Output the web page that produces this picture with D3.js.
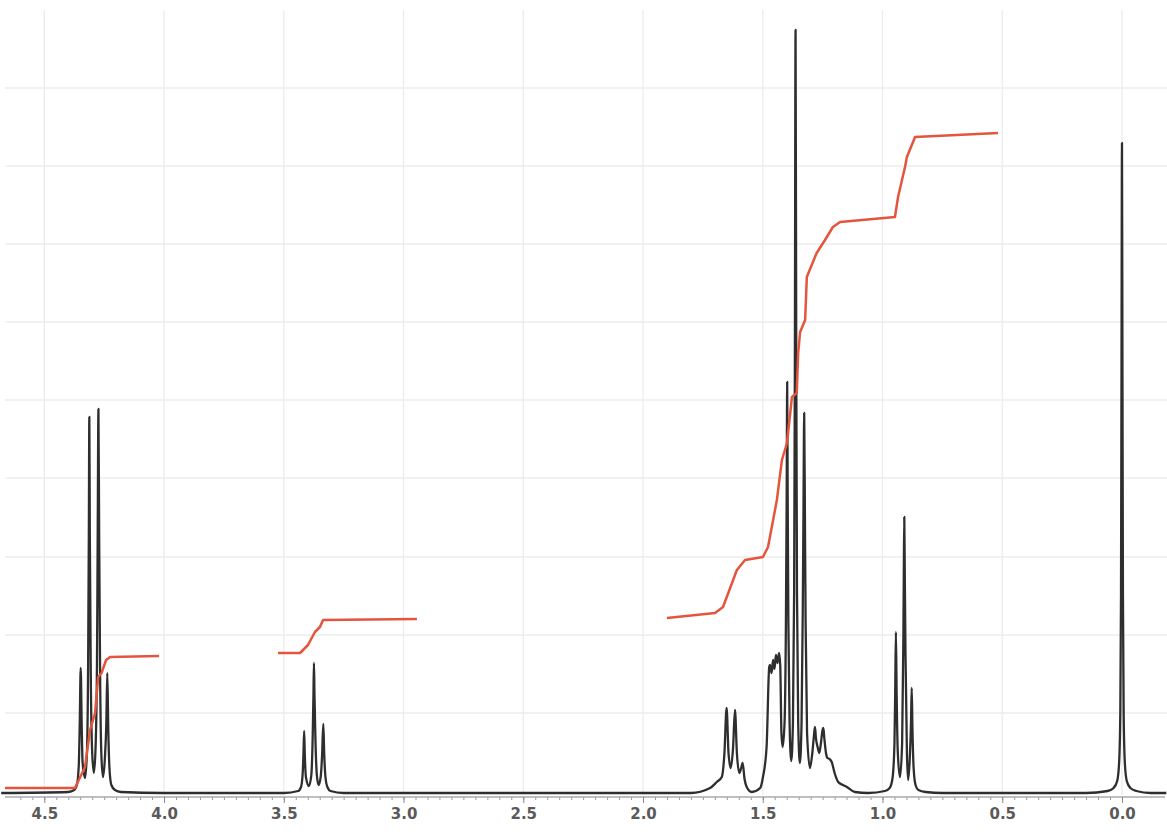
<!DOCTYPE html>
<html>
<head>
<meta charset="utf-8">
<script src="https://cdn.jsdelivr.net/npm/d3@7"></script>
<style>
  body { margin: 0; background: #fff; }
  svg { display: block; }
</style>
</head>
<body>
<svg id="nmr" width="1167" height="837"></svg>
<script>
// 1H NMR spectrum: [ppm, intensity]
const baseLeft = [[4.68, 0], [4.40, 1], [4.375, 3]];
const quartet = [
  [4.364, 8], [4.356, 28], [4.352, 70], [4.348, 125], [4.344, 70], [4.340, 30], [4.330, 15],
  [4.322, 40], [4.317, 130], [4.314, 260], [4.312, 376], [4.310, 260], [4.306, 120], [4.300, 40],
  [4.293, 20], [4.286, 45], [4.280, 130], [4.277, 260], [4.274, 384], [4.271, 260], [4.267, 120],
  [4.262, 40], [4.255, 16], [4.247, 35], [4.241, 70], [4.237, 120], [4.233, 65], [4.228, 25],
  [4.220, 8], [4.205, 3], [4.18, 1], [4.0, 0]
];
const triplet34 = [
  [3.50, 0], [3.44, 2], [3.428, 6], [3.421, 20], [3.418, 38], [3.415, 62], [3.412, 36], [3.407, 15],
  [3.395, 7], [3.385, 18], [3.379, 60], [3.376, 100], [3.374, 130], [3.372, 100], [3.368, 55],
  [3.362, 18], [3.355, 8], [3.346, 16], [3.340, 38], [3.335, 69], [3.331, 38], [3.326, 16],
  [3.318, 6], [3.305, 2], [3.25, 0]
];
const multiplet14 = [
  [1.80, 0], [1.720, 5], [1.692, 11], [1.671, 16], [1.660, 40], [1.651, 85], [1.643, 40], [1.634, 25],
  [1.624, 45], [1.616, 83], [1.608, 40], [1.598, 20], [1.589, 26], [1.584, 30], [1.576, 14],
  [1.567, 6], [1.546, 1], [1.511, 5], [1.499, 16], [1.484, 46], [1.473, 126], [1.470, 128],
  [1.463, 120], [1.457, 133], [1.451, 124], [1.445, 138], [1.438, 130], [1.432, 140], [1.427, 128],
  [1.422, 60], [1.417, 46], [1.409, 70], [1.403, 180], [1.400, 300], [1.398, 411], [1.396, 300],
  [1.393, 170], [1.388, 70], [1.381, 32], [1.374, 70], [1.369, 200], [1.366, 420], [1.363, 763],
  [1.360, 420], [1.357, 200], [1.352, 70], [1.345, 30], [1.338, 70], [1.333, 180], [1.330, 280],
  [1.327, 380], [1.324, 280], [1.321, 170], [1.315, 60], [1.303, 25], [1.293, 40], [1.286, 58],
  [1.282, 66], [1.278, 55], [1.270, 45], [1.264, 40], [1.257, 50], [1.251, 62], [1.247, 65],
  [1.243, 55], [1.236, 40], [1.230, 35], [1.221, 34], [1.212, 31], [1.200, 20], [1.185, 11],
  [1.165, 8], [1.149, 6], [1.115, 1], [1.06, 0]
];
const triplet09 = [
  [0.99, 2], [0.97, 5], [0.958, 15], [0.950, 50], [0.947, 100], [0.944, 161], [0.941, 100],
  [0.936, 40], [0.927, 16], [0.918, 50], [0.913, 150], [0.911, 220], [0.909, 276], [0.907, 220],
  [0.904, 140], [0.898, 40], [0.893, 13], [0.886, 35], [0.881, 70], [0.878, 105], [0.875, 65],
  [0.870, 25], [0.862, 8], [0.85, 3], [0.82, 1], [0.75, 0]
];
const tms = [
  [0.15, 0], [0.06, 2], [0.035, 5], [0.02, 12], [0.012, 30], [0.007, 80], [0.004, 200], [0.002, 420],
  [0, 650], [-0.002, 420], [-0.004, 200], [-0.007, 80], [-0.012, 30], [-0.02, 12], [-0.035, 5],
  [-0.06, 2], [-0.12, 0], [-0.185, 0]
];

// integral traces: [ppm, cumulative height]
const integral1 = [[4.664, 5], [4.372, 5], [4.330, 26], [4.309, 63], [4.288, 80], [4.275, 116],
  [4.261, 120], [4.242, 133], [4.225, 136], [4.021, 137]];
const integral2 = [[3.524, 140], [3.432, 140], [3.399, 148], [3.370, 161], [3.349, 166],
  [3.336, 173], [2.944, 174]];
const integral3 = [[1.900, 175], [1.699, 180], [1.666, 186], [1.608, 223], [1.574, 233],
  [1.499, 236], [1.478, 246], [1.441, 293], [1.420, 333], [1.399, 350], [1.378, 396],
  [1.358, 400], [1.352, 440], [1.344, 461], [1.323, 473], [1.316, 516], [1.275, 540],
  [1.240, 553], [1.207, 566], [1.177, 571], [0.948, 576], [0.935, 596], [0.906, 626],
  [0.898, 636], [0.864, 656], [0.518, 660]];

const majorTicks = [4.5, 4.0, 3.5, 3.0, 2.5, 2.0, 1.5, 1.0, 0.5, 0.0];
const gridLevels = [80, 158, 236, 315, 393, 471, 549, 627, 705];

const svg = d3.select("#nmr");
const x = d3.scaleLinear().domain([4.685, -0.188]).range([0, 1167]);
const y = d3.scaleLinear().domain([0, 780]).range([793, 13]);

// faint background grid
const grid = svg.append("g").attr("stroke", "#ececec").attr("stroke-width", 1.3);
grid.selectAll("line.v").data(majorTicks).enter().append("line")
  .attr("x1", d => x(d)).attr("x2", d => x(d))
  .attr("y1", 10).attr("y2", 795);
grid.selectAll("line.h").data(gridLevels).enter().append("line")
  .attr("x1", 5).attr("x2", 1167)
  .attr("y1", d => y(d)).attr("y2", d => y(d));

// axis: minor ticks every 0.05 ppm, labelled majors every 0.5
const minorTicks = d3.range(0, 93).map(i => +(4.6 - i * 0.05).toFixed(2));
const axisY = 797;
svg.append("g")
  .attr("transform", `translate(0,${axisY})`)
  .call(d3.axisBottom(x).tickValues(minorTicks).tickSize(3).tickFormat(""))
  .call(g => g.select(".domain").remove())
  .call(g => g.selectAll("line").attr("stroke", "#999"));
const ax = svg.append("g")
  .attr("transform", `translate(0,${axisY})`)
  .call(d3.axisBottom(x).tickValues(majorTicks).tickSize(6).tickPadding(5)
    .tickFormat(d3.format(".1f")));
ax.select(".domain").attr("stroke", "#aaa").attr("stroke-width", 1.5)
  .attr("d", `M5,0H1165`);
ax.selectAll("line").attr("stroke", "#888");
ax.selectAll("text")
  .attr("fill", "#5a5a5a")
  .style("font-family", "'DejaVu Sans', sans-serif")
  .style("font-size", "15px")
  .style("font-weight", "bold");

// spectrum
const spectrum = [].concat(baseLeft, quartet, triplet34, multiplet14, triplet09, tms);
const line = d3.line()
  .x(d => x(d[0]))
  .y(d => y(d[1]))
  .curve(d3.curveMonotoneX);
svg.append("path")
  .datum(spectrum)
  .attr("fill", "none")
  .attr("stroke", "#2e2e2e")
  .attr("stroke-width", 2.3)
  .attr("stroke-linejoin", "round")
  .attr("d", line);

// integrals
const integLine = d3.line().x(d => x(d[0])).y(d => y(d[1]));
svg.append("g").selectAll("path")
  .data([integral1, integral2, integral3])
  .enter().append("path")
  .attr("fill", "none")
  .attr("stroke", "#e5553d")
  .attr("stroke-width", 2.5)
  .attr("stroke-linejoin", "round")
  .attr("d", integLine);
</script>
</body>
</html>
